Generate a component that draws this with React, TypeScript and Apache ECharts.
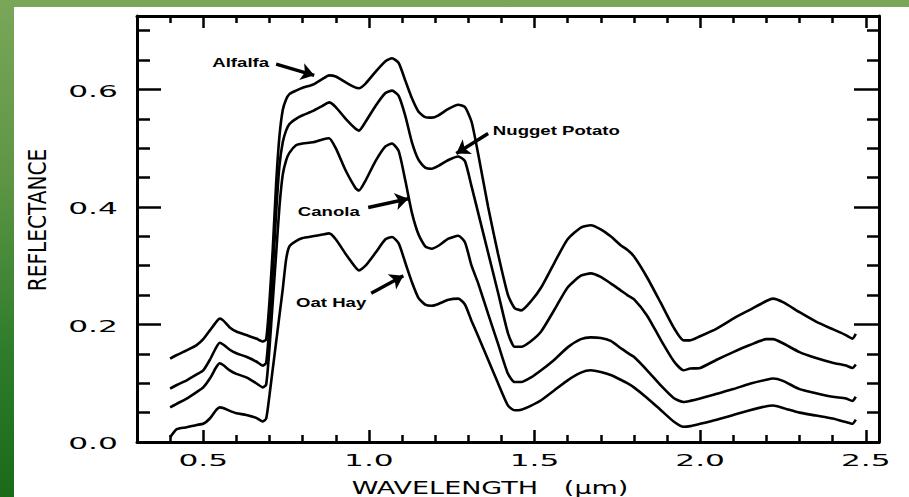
import React, { useEffect, useRef } from "react";
import * as echarts from "echarts";

// ---------- data ----------
const wavelengths = [
  0.40, 0.42, 0.45, 0.48, 0.50, 0.52, 0.54, 0.55, 0.56, 0.58, 0.60, 0.63, 0.66, 0.68, 0.69,
  0.70, 0.71, 0.72, 0.73, 0.74, 0.75, 0.76, 0.78, 0.80, 0.83, 0.86, 0.88, 0.90, 0.93, 0.96,
  0.97, 0.99, 1.02, 1.05, 1.07, 1.09, 1.11, 1.13, 1.15, 1.17, 1.19, 1.21, 1.24, 1.27, 1.29,
  1.31, 1.33, 1.36, 1.39, 1.42, 1.44, 1.46, 1.49, 1.52, 1.56, 1.60, 1.64, 1.67, 1.70, 1.73,
  1.76, 1.78, 1.80, 1.84, 1.88, 1.92, 1.95, 1.97, 2.00, 2.05, 2.10, 2.15, 2.20, 2.22, 2.25,
  2.30, 2.35, 2.40, 2.44, 2.46, 2.47,
];

const alfalfa = [
  0.142, 0.148, 0.156, 0.165, 0.175, 0.190, 0.205, 0.210, 0.207, 0.195, 0.188, 0.182, 0.176, 0.171, 0.175,
  0.240, 0.330, 0.440, 0.520, 0.565, 0.583, 0.592, 0.598, 0.603, 0.608, 0.618, 0.624, 0.622, 0.612, 0.603,
  0.602, 0.610, 0.630, 0.648, 0.653, 0.645, 0.615, 0.585, 0.562, 0.553, 0.552, 0.556, 0.567, 0.574, 0.570,
  0.545, 0.490, 0.400, 0.320, 0.250, 0.228, 0.224, 0.240, 0.263, 0.305, 0.345, 0.365, 0.369, 0.362, 0.350,
  0.335, 0.327, 0.316, 0.280, 0.238, 0.195, 0.173, 0.173, 0.180, 0.193, 0.210, 0.225, 0.240, 0.244, 0.238,
  0.221, 0.205, 0.192, 0.182, 0.176, 0.184,
];

const nuggetPotato = [
  0.091, 0.097, 0.105, 0.115, 0.122, 0.140, 0.162, 0.169, 0.166, 0.157, 0.151, 0.145, 0.137, 0.130, 0.135,
  0.200, 0.290, 0.390, 0.470, 0.510, 0.530, 0.541, 0.550, 0.556, 0.563, 0.572, 0.578, 0.570, 0.550, 0.533,
  0.530, 0.545, 0.572, 0.594, 0.598, 0.589, 0.555, 0.510, 0.480, 0.467, 0.465, 0.470, 0.480, 0.486, 0.478,
  0.435, 0.390, 0.322, 0.254, 0.185, 0.162, 0.162, 0.172, 0.188, 0.225, 0.263, 0.283, 0.287, 0.281, 0.270,
  0.258, 0.250, 0.243, 0.215, 0.175, 0.138, 0.122, 0.125, 0.126, 0.140, 0.153, 0.165, 0.175, 0.175, 0.168,
  0.153, 0.143, 0.135, 0.130, 0.126, 0.132,
];

const canola = [
  0.059, 0.065, 0.074, 0.085, 0.093, 0.108, 0.128, 0.134, 0.131, 0.122, 0.116, 0.110, 0.100, 0.093, 0.098,
  0.160, 0.240, 0.320, 0.400, 0.455, 0.479, 0.492, 0.505, 0.508, 0.510, 0.515, 0.517, 0.500, 0.462, 0.432,
  0.428, 0.445, 0.478, 0.503, 0.508, 0.495, 0.445, 0.390, 0.353, 0.333, 0.329, 0.334, 0.346, 0.351, 0.340,
  0.300, 0.270, 0.218, 0.167, 0.116, 0.102, 0.102, 0.110, 0.122, 0.140, 0.161, 0.175, 0.178, 0.177, 0.172,
  0.160, 0.152, 0.145, 0.122, 0.097, 0.075, 0.068, 0.070, 0.074, 0.082, 0.090, 0.099, 0.106, 0.108, 0.104,
  0.090, 0.083, 0.077, 0.074, 0.070, 0.077,
];

const oatHay = [
  0.008, 0.022, 0.025, 0.029, 0.031, 0.040, 0.055, 0.059, 0.058, 0.053, 0.049, 0.046, 0.041, 0.035, 0.040,
  0.080, 0.125, 0.170, 0.215, 0.260, 0.310, 0.333, 0.342, 0.347, 0.350, 0.353, 0.355, 0.345, 0.320, 0.297,
  0.292, 0.300, 0.322, 0.345, 0.349, 0.338, 0.305, 0.272, 0.245, 0.234, 0.232, 0.235, 0.242, 0.244, 0.234,
  0.206, 0.180, 0.140, 0.100, 0.062, 0.054, 0.055, 0.062, 0.071, 0.088, 0.105, 0.118, 0.122, 0.119, 0.114,
  0.106, 0.100, 0.093, 0.075, 0.055, 0.035, 0.026, 0.027, 0.031, 0.038, 0.046, 0.054, 0.061, 0.062, 0.058,
  0.050, 0.045, 0.040, 0.034, 0.031, 0.038,
];

const xMajorTicks = [0.5, 1.0, 1.5, 2.0, 2.5];
const xMinorTicks = [0.4, 0.6, 0.7, 0.8, 0.9, 1.1, 1.2, 1.3, 1.4, 1.6, 1.7, 1.8, 1.9, 2.1, 2.2, 2.3, 2.4];
const xTickLabels = ["0.5", "1.0", "1.5", "2.0", "2.5"];
const yMajorTicks = [0.0, 0.2, 0.4, 0.6];
const yMinorTicks = [0.05, 0.1, 0.15, 0.25, 0.3, 0.35, 0.45, 0.5, 0.55, 0.65, 0.7];
const yTickLabels = ["0.0", "0.2", "0.4", "0.6"];

const xAxisName = "WAVELENGTH   (\u03bcm)";
const yAxisName = "REFLECTANCE";

// annotations: label anchor and arrow (tail -> head), in data units
const annotationNames = ["Alfalfa", "Nugget Potato", "Canola", "Oat Hay"];
const annotationLabelPos = [
  [0.613, 0.646],
  [1.566, 0.53],
  [0.879, 0.392],
  [0.886, 0.237],
];
const annotationArrows = [
  [[0.72, 0.643], [0.835, 0.624]],
  [[1.36, 0.525], [1.264, 0.491]],
  [[0.998, 0.399], [1.119, 0.414]],
  [[1.007, 0.253], [1.104, 0.283]],
];

const X_MIN = 0.3;
const X_MAX = 2.54;
const Y_MIN = 0;
const Y_MAX = 0.725;

function tickAxis(kind: "x" | "y", position: string, values: number[], length: number, showLine: boolean) {
  const base: any = {
    type: "value",
    position,
    min: kind === "x" ? X_MIN : Y_MIN,
    max: kind === "x" ? X_MAX : Y_MAX,
    axisLine: { show: showLine, onZero: false, lineStyle: { color: "#000", width: 3 } },
    axisTick: {
      show: true,
      inside: true,
      length,
      customValues: values,
      lineStyle: { color: "#000", width: 2.5 },
    },
    axisLabel: { show: false },
    splitLine: { show: false },
  };
  return base;
}

export default function App() {
  const ref = useRef<HTMLDivElement>(null);

  useEffect(() => {
    if (!ref.current) return;
    const chart = echarts.init(ref.current, null, { renderer: "svg" });

    const lineStyle = { color: "#000", width: 2.6 };
    const mk = (name: string, vals: number[], extra: any = {}) => ({
      name,
      type: "line",
      data: wavelengths.map((w, i) => [w, vals[i]]),
      symbol: "none",
      smooth: 0.2,
      lineStyle,
      xAxisIndex: 0,
      yAxisIndex: 0,
      silent: true,
      z: 3,
      ...extra,
    });

    chart.setOption({
      animation: false,
      backgroundColor: "transparent",
      grid: { left: 137, top: 16, right: 30, bottom: 55, containLabel: false },
      xAxis: [
        tickAxis("x", "bottom", xMinorTicks, 7, true),
        tickAxis("x", "bottom", xMajorTicks, 12, false),
        tickAxis("x", "top", xMinorTicks, 7, true),
        tickAxis("x", "top", xMajorTicks, 12, false),
      ],
      yAxis: [
        tickAxis("y", "left", yMinorTicks, 13, true),
        tickAxis("y", "left", yMajorTicks, 24, false),
        tickAxis("y", "right", yMinorTicks, 12, true),
        tickAxis("y", "right", yMajorTicks, 25, false),
      ],
      series: [
        mk("Alfalfa", alfalfa, {
          markLine: {
            silent: true,
            symbol: ["none", "arrow"],
            symbolSize: 13,
            label: { show: false },
            lineStyle: { color: "#000", width: 3.5, type: "solid" },
            itemStyle: { color: "#000" },
            data: annotationArrows.map((a) => [{ coord: a[0] }, { coord: a[1] }]),
          },
        }),
        mk("Nugget Potato", nuggetPotato),
        mk("Canola", canola),
        mk("Oat Hay", oatHay),
      ],
    });

    const toPx = (x: number, y: number) =>
      chart.convertToPixel({ xAxisIndex: 0, yAxisIndex: 0 } as any, [x, y]) as number[];

    const graphics: any[] = [];
    const txt = (text: string, x: number, y: number, fontSize: number, fontFamily: string, fontWeight: string, scaleX: number, scaleY = 1, rotation = 0) => ({
      type: "text",
      x,
      y,
      scaleX,
      scaleY,
      rotation,
      silent: true,
      style: {
        text,
        x: 0,
        y: 0,
        fill: "#000",
        fontSize,
        fontFamily,
        fontWeight,
        align: "center",
        verticalAlign: "middle",
        textAlign: "center",
        textVerticalAlign: "middle",
      },
    });

    xMajorTicks.forEach((v, i) => {
      const p = toPx(v, 0);
      graphics.push(txt(xTickLabels[i], p[0], p[1] + 19, 16, "DejaVu Sans", "normal", 1.95));
    });
    yMajorTicks.forEach((v, i) => {
      const p = toPx(X_MIN, v);
      graphics.push(txt(yTickLabels[i], p[0] - 44, p[1] + 2, 16, "DejaVu Sans", "normal", 1.95));
    });
    {
      const pl = toPx(X_MIN, 0);
      const pr = toPx(X_MAX, 0);
      graphics.push(txt(xAxisName, (pl[0] + pr[0]) / 2 - 18, pl[1] + 46, 18, "DejaVu Sans", "normal", 1.5));
      const pb = toPx(X_MIN, Y_MIN);
      const pt = toPx(X_MIN, Y_MAX);
      graphics.push(txt(yAxisName, pb[0] - 100, (pb[1] + pt[1]) / 2 - 9, 18, "DejaVu Sans", "normal", 1.12, 1.4, Math.PI / 2));
    }
    annotationNames.forEach((name, i) => {
      const p = toPx(annotationLabelPos[i][0], annotationLabelPos[i][1]);
      graphics.push(txt(name, p[0], p[1], 12, "Liberation Sans", "bold", 1.55));
    });

    chart.setOption({ graphic: graphics });

    return () => chart.dispose();
  }, []);

  return (
    <div
      style={{
        position: "fixed",
        left: 0,
        top: 0,
        width: 909,
        height: 497,
        background: "linear-gradient(to bottom, #7aa658 0%, #5e9645 35%, #2f7d2c 70%, #1a6a1a 100%)",
        overflow: "hidden",
      }}
    >
      <div style={{ position: "absolute", left: 14, top: 7, right: 0, bottom: 0, background: "#ffffff" }} />
      <div ref={ref} style={{ position: "absolute", left: 0, top: 0, width: 909, height: 497 }} />
    </div>
  );
}
